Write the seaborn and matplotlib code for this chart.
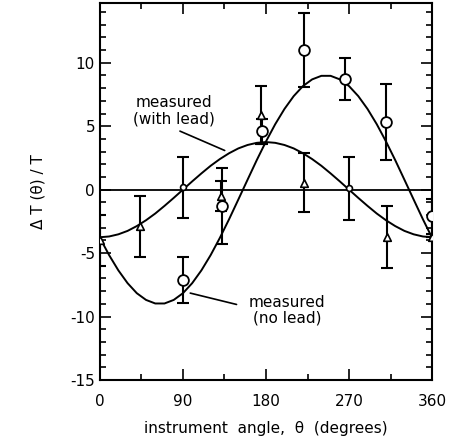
import numpy as np
import pandas as pd
import matplotlib
matplotlib.use('Agg')
import matplotlib.pyplot as plt
import seaborn as sns

# Fitted curves (every 10 degrees)
curve_theta = list(range(0, 361, 10))
no_lead_curve = [-3.80, -5.16, -6.36, -7.37, -8.16, -8.69, -8.97, -8.97, -8.69, -8.16,
                 -7.37, -6.36, -5.16, -3.80, -2.33, -0.78, 0.78, 2.33, 3.80,
                 5.16, 6.36, 7.37, 8.16, 8.69, 8.97, 8.97, 8.69, 8.16,
                 7.37, 6.36, 5.16, 3.80, 2.33, 0.78, -0.78, -2.33, -3.80]
with_lead_curve = [-3.75, -3.69, -3.52, -3.25, -2.87, -2.41, -1.88, -1.28, -0.65, 0.0,
                   0.65, 1.28, 1.88, 2.41, 2.87, 3.25, 3.52, 3.69, 3.75,
                   3.69, 3.52, 3.25, 2.87, 2.41, 1.88, 1.28, 0.65, 0.0,
                   -0.65, -1.28, -1.88, -2.41, -2.87, -3.25, -3.52, -3.69, -3.75]

# Measured points, no lead (open circles)
no_lead_theta = [90, 132, 176, 221, 266, 310, 360]
no_lead_val = [-7.1, -1.3, 4.6, 11.0, 8.7, 5.3, -2.1]
no_lead_err = [1.8, 3.0, 1.0, 2.9, 1.65, 3.0, 1.4]

# Measured points, with lead (triangles)
lead_theta = [0, 43, 131, 175, 221, 311, 360]
lead_val = [-4.0, -2.9, -0.5, 5.9, 0.55, -3.75, -3.7]
lead_err = [2.0, 2.4, 1.2, 2.3, 2.35, 2.45, 0.0]

# with lead, small circles on the zero line
lead_small_theta = [90, 270]
lead_small_val = [0.2, 0.1]
lead_small_err = [2.4, 2.5]

sns.set_style('ticks')
plt.rcParams['font.family'] = ['DejaVu Sans']
plt.rcParams['axes.unicode_minus'] = False
for k in ['text.color', 'axes.labelcolor', 'xtick.color', 'ytick.color', 'axes.edgecolor']:
    plt.rcParams[k] = 'black'

fig = plt.figure(figsize=(4.52, 4.46), dpi=100)
ax = fig.add_axes([0.221, 0.148, 0.735, 0.845])

curves = pd.DataFrame({'theta': curve_theta, 'no_lead': no_lead_curve, 'with_lead': with_lead_curve})
sns.lineplot(data=curves, x='theta', y='no_lead', color='black', lw=1.4, ax=ax)
sns.lineplot(data=curves, x='theta', y='with_lead', color='black', lw=1.4, ax=ax)
ax.axhline(0, color='black', lw=1.3)

ax.errorbar(no_lead_theta, no_lead_val, yerr=no_lead_err, fmt='none',
            ecolor='black', elinewidth=1.5, capsize=4, capthick=1.5)
ax.errorbar(lead_theta, lead_val, yerr=lead_err, fmt='none',
            ecolor='black', elinewidth=1.5, capsize=4, capthick=1.5)
ax.errorbar(lead_small_theta, lead_small_val, yerr=lead_small_err, fmt='none',
            ecolor='black', elinewidth=1.5, capsize=4, capthick=1.5)

sns.scatterplot(x=no_lead_theta, y=no_lead_val, marker='o', s=60,
                facecolor='white', edgecolor='black', linewidth=1.3, zorder=5, ax=ax)
sns.scatterplot(x=lead_theta, y=lead_val, marker='^', s=30,
                facecolor='white', edgecolor='black', linewidth=1.2, zorder=5, ax=ax)
sns.scatterplot(x=lead_small_theta, y=lead_small_val, marker='o', s=18,
                facecolor='white', edgecolor='black', linewidth=1.2, zorder=5, ax=ax)

# labels with pointer lines
ax.text(80, 6.2, 'measured\n(with lead)', ha='center', va='center', fontsize=11, linespacing=1.1)
ax.annotate('', xy=(138, 3.0), xytext=(84, 4.7),
            arrowprops=dict(arrowstyle='-', color='black', lw=1.2))
ax.text(203, -9.5, 'measured\n(no lead)', ha='center', va='center', fontsize=11, linespacing=1.1)
ax.annotate('', xy=(95, -8.1), xytext=(151, -9.1),
            arrowprops=dict(arrowstyle='-', color='black', lw=1.2))

ax.set_xlim(0, 360)
ax.set_ylim(-15, 14.7)
ax.set_xticks([0, 90, 180, 270, 360])
ax.set_xticks(np.arange(0, 361, 45), minor=True)
ax.set_yticks([-15, -10, -5, 0, 5, 10])
ax.set_yticks(np.arange(-15, 15, 1), minor=True)
ax.tick_params(which='both', direction='in', top=True, right=True, labelsize=11, width=1.2)
ax.tick_params(which='major', length=8)
ax.tick_params(which='minor', length=4)
ax.tick_params(axis='x', pad=10)
for sp in ax.spines.values():
    sp.set_linewidth(1.5)
    sp.set_visible(True)

ax.set_xlabel('instrument  angle,  θ  (degrees)', fontsize=11, labelpad=9)
ax.set_ylabel('Δ T (θ) / T', fontsize=11, labelpad=18)

fig.savefig('out.png', dpi=100, facecolor='white')
